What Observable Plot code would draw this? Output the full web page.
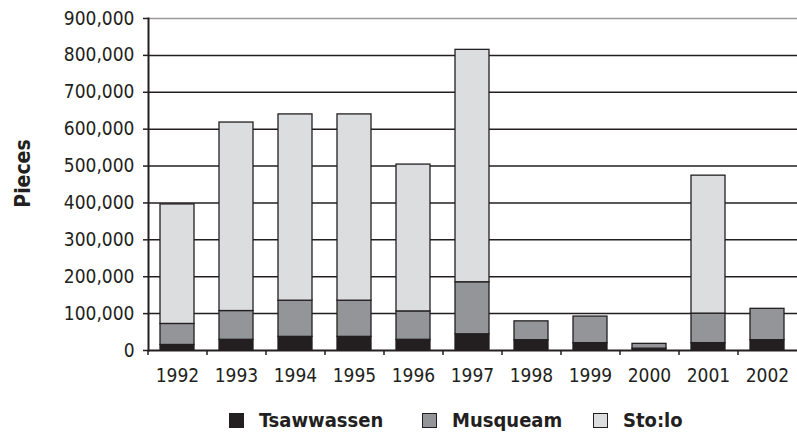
<!DOCTYPE html>
<html>
<head>
<meta charset="utf-8">
<script src="https://cdn.jsdelivr.net/npm/d3@7"></script>
<script src="https://cdn.jsdelivr.net/npm/@observablehq/plot@0.6"></script>
<style>
  body { margin: 0; background: #fff; font-family: "DejaVu Sans Condensed", "Liberation Sans", sans-serif; }
  #chart svg { display: block; }
  .legend { position: relative; height: 43px; font-weight: bold; font-size: 20px; color: #231f20; }
  .legend .item { position: absolute; top: 8px; display: flex; align-items: center; }
  .legend .sw { width: 15px; height: 15px; border: 1px solid #231f20; margin-right: 15px; box-sizing: border-box; }
</style>
</head>
<body>
<div id="chart"></div>
<div class="legend" id="legend"></div>
<script>
const years = ["1992","1993","1994","1995","1996","1997","1998","1999","2000","2001","2002"];
const seriesNames = ["Tsawwassen", "Musqueam", "Sto:lo"];
const tsawwassen = [15000, 29000, 37000, 37000, 29000, 44000, 28000, 20000, 5000, 20000, 28000];
const musqueam   = [57000, 78000, 98000, 98000, 77000, 141000, 51000, 72000, 13000, 80000, 85000];
const stolo      = [324000, 511000, 505000, 505000, 398000, 630000, 0, 0, 0, 374000, 0];
const yTicks = [0, 100000, 200000, 300000, 400000, 500000, 600000, 700000, 800000, 900000];
const colors = ["#231f20", "#949599", "#dcdddf"];

const seriesValues = [tsawwassen, musqueam, stolo];
const rows = [];
years.forEach((y, i) => {
  seriesNames.forEach((s, j) => rows.push({year: y, series: s, value: seriesValues[j][i]}));
});

const W = 797, H = 400, ML = 148, MR = 0;
const step = (W - ML - MR) / years.length;
const font = `"DejaVu Sans Condensed", "Liberation Sans", sans-serif`;

const chart = Plot.plot({
  width: W,
  height: H,
  marginLeft: ML,
  marginRight: MR,
  marginTop: 18,
  marginBottom: 50,
  style: {fontFamily: font, fontSize: "19px", color: "#231f20", background: "#fff"},
  x: {domain: years, paddingInner: 0.42, paddingOuter: 0.21, label: null},
  y: {domain: [0, 900000], label: null},
  color: {domain: seriesNames, range: colors},
  marks: [
    Plot.ruleY(yTicks.filter(d => d > 0 && d < 900000), {stroke: "#231f20", strokeWidth: 1.5}),
    Plot.ruleY([900000], {stroke: "#9a9a9a", strokeWidth: 1.4}),
    Plot.barY(rows, {x: "year", y: "value", fill: "series", stroke: "#231f20", strokeWidth: 1.3, order: seriesNames}),
    Plot.ruleY([0], {stroke: "#231f20", strokeWidth: 2}),
    Plot.frame({anchor: "left", stroke: "#231f20", strokeWidth: 2}),
    Plot.axisY(yTicks, {tickSize: 5, tickPadding: 9, tickFormat: d => d3.format(",")(d), label: null, stroke: "#231f20", strokeWidth: 1.5, fontSize: 19}),
    Plot.axisX({tickSize: 5, tickFormat: () => "", dx: -step / 2, stroke: "#231f20", strokeWidth: 1.5, label: null}),
    Plot.axisX({tickSize: 0, tickPadding: 18, label: null, fontSize: 19}),
    Plot.text(["Pieces"], {frameAnchor: "left", textAnchor: "middle", dx: -125, dy: -11, rotate: -90, fontWeight: "bold", fontSize: 21, text: d => d})
  ]
});
document.getElementById("chart").appendChild(chart);

const legend = document.getElementById("legend");
const lefts = [229, 422, 593];
seriesNames.forEach((s, j) => {
  const item = document.createElement("div");
  item.className = "item";
  item.style.left = lefts[j] + "px";
  const sw = document.createElement("span");
  sw.className = "sw";
  sw.style.background = colors[j];
  const t = document.createElement("span");
  t.textContent = s;
  item.appendChild(sw);
  item.appendChild(t);
  legend.appendChild(item);
});
</script>
</body>
</html>
